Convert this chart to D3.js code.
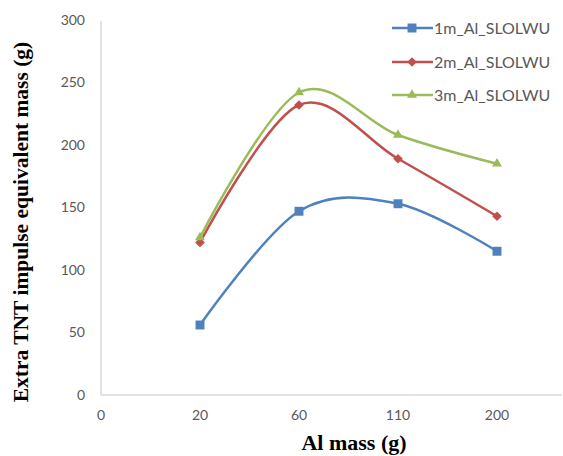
<!DOCTYPE html>
<html>
<head>
<meta charset="utf-8">
<script src="https://cdn.jsdelivr.net/npm/d3@7"></script>
<style>
  html, body { margin: 0; padding: 0; background: #fff; }
  svg { display: block; }
</style>
</head>
<body>
<svg id="chart" width="563" height="456"></svg>
<script>
// Category positions along the x axis (0 is only an axis label)
const xLabels = ["0", "20", "60", "110", "200"];
const categories = ["20", "60", "110", "200"];
const yTicks = [0, 50, 100, 150, 200, 250, 300];

const seriesNames = ["1m_Al_SLOLWU", "2m_Al_SLOLWU", "3m_Al_SLOLWU"];
const series1 = [56, 147, 153, 115];
const series2 = [122, 232, 189, 143];
const series3 = [126, 242, 208, 185];
const colors = ["#4F81BD", "#C0504D", "#9BBB59"];
const markers = ["square", "diamond", "triangle"];

const svg = d3.select("#chart");

const x = d3.scaleLinear().domain([0, 4]).range([101, 497]);
const y = d3.scaleLinear().domain([0, 300]).range([395, 20]);

// axes
svg.append("line").attr("x1", x(0)).attr("x2", 562).attr("y1", y(0)).attr("y2", y(0))
  .attr("stroke", "#D9D9D9").attr("stroke-width", 1.5);
svg.append("line").attr("x1", x(0)).attr("x2", x(0)).attr("y1", y(0)).attr("y2", y(300) + 1)
  .attr("stroke", "#D9D9D9").attr("stroke-width", 1.5);

const tickFont = "Lato, 'Open Sans', sans-serif";
svg.selectAll(".ytick").data(yTicks).enter().append("text")
  .attr("x", 85).attr("y", d => y(d)).attr("dy", "0.35em")
  .attr("text-anchor", "end").attr("font-family", tickFont).attr("font-size", 14)
  .attr("fill", "#595959").text(d => d);

svg.selectAll(".xtick").data(xLabels).enter().append("text")
  .attr("x", (d, i) => x(i)).attr("y", 420)
  .attr("text-anchor", "middle").attr("font-family", tickFont).attr("font-size", 14)
  .attr("fill", "#595959").text(d => d);

// axis titles
svg.append("text").attr("x", 354).attr("y", 450).attr("text-anchor", "middle")
  .attr("font-family", "'Liberation Serif', 'Times New Roman', serif")
  .attr("font-weight", "bold").attr("font-size", 22).attr("fill", "#000")
  .text("Al mass (g)");
svg.append("text").attr("transform", "translate(28,222) rotate(-90)")
  .attr("text-anchor", "middle")
  .attr("font-family", "'Liberation Serif', 'Times New Roman', serif")
  .attr("font-weight", "bold").attr("font-size", 21.5).attr("fill", "#000")
  .text("Extra TNT impulse equivalent mass (g)");

const symbolFor = m => m === "square" ? d3.symbol(d3.symbolSquare, 80)
  : m === "diamond" ? d3.symbol(d3.symbolDiamond2, 60)
  : d3.symbol(d3.symbolTriangle2, 70);

const allSeries = [series1, series2, series3];
const line = d3.line()
  .x((d, i) => x(i + 1)).y(d => y(d))
  .curve(d3.curveCardinal.tension(0));

allSeries.forEach((vals, s) => {
  svg.append("path").datum(vals).attr("d", line)
    .attr("fill", "none").attr("stroke", colors[s]).attr("stroke-width", 2.5);
  svg.selectAll(".m" + s).data(vals).enter().append("path")
    .attr("transform", (d, i) => `translate(${x(i + 1)},${y(d)})`)
    .attr("d", symbolFor(markers[s])())
    .attr("fill", colors[s]);
});

// legend
const legendY = [28, 62, 95];
seriesNames.forEach((name, s) => {
  const g = svg.append("g").attr("transform", `translate(0,${legendY[s]})`);
  g.append("line").attr("x1", 392).attr("x2", 433).attr("y1", 0).attr("y2", 0)
    .attr("stroke", colors[s]).attr("stroke-width", 2.5);
  g.append("path").attr("transform", "translate(412,0)")
    .attr("d", symbolFor(markers[s])()).attr("fill", colors[s]);
  g.append("text").attr("x", 434).attr("y", 0).attr("dy", "0.35em")
    .attr("font-family", tickFont).attr("font-size", 16).attr("fill", "#595959")
    .text(name);
});
</script>
</body>
</html>
